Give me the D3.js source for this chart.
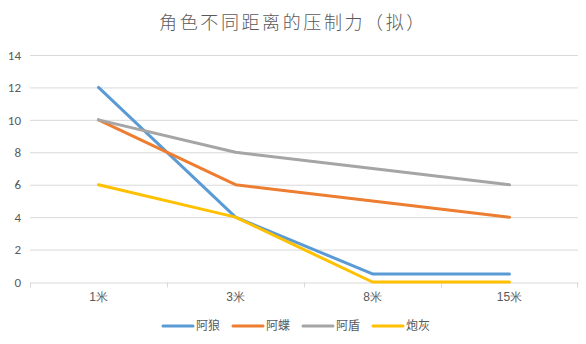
<!DOCTYPE html>
<html>
<head>
<meta charset="utf-8">
<script src="https://cdn.jsdelivr.net/npm/d3@7"></script>
<style>
  html, body { margin: 0; padding: 0; background: #fff; }
  svg { display: block; font-family: "Noto Sans CJK SC", "Noto Sans", sans-serif; }
</style>
</head>
<body>
<svg id="chart" width="586" height="344"></svg>
<script>
const categories = ["1米", "3米", "8米", "15米"];
const seriesNames = ["阿狼", "阿蝶", "阿盾", "炮灰"];
const wolf = [12, 4, 0.5, 0.5];
const butterfly = [10, 6, 5, 4];
const shield = [10, 8, 7, 6];
const fodder = [6, 4, 0, 0];
const yTicks = [0, 2, 4, 6, 8, 10, 12, 14];
const colors = ["#5B9BD5", "#ED7D31", "#A5A5A5", "#FFC000"];
const title = "角色不同距离的压制力（拟）";

const series = [wolf, butterfly, shield, fodder].map((values, i) => ({
  name: seriesNames[i], values, color: colors[i]
}));

const svg = d3.select("#chart");
const W = 586, H = 344;
const m = { left: 30, right: 8, top: 55, bottom: 62 };

const x = d3.scaleBand().domain(categories).range([m.left, W - m.right]);
const y = d3.scaleLinear().domain([0, 14]).range([H - m.bottom, m.top]);

// title
svg.append("text")
  .attr("x", 293).attr("y", 29)
  .attr("text-anchor", "middle")
  .attr("font-size", 18)
  .attr("font-weight", 300)
  .attr("letter-spacing", 2.6)
  .attr("fill", "#595959")
  .text(title);

// horizontal gridlines
svg.append("g").selectAll("line").data(yTicks.filter(d => d > 0)).join("line")
  .attr("x1", m.left).attr("x2", W - m.right)
  .attr("y1", d => y(d) + 0.5).attr("y2", d => y(d) + 0.5)
  .attr("stroke", "#D9D9D9").attr("stroke-width", 1);

// y axis labels
const yAxis = d3.axisLeft(y).tickValues(yTicks).tickSize(0).tickPadding(9);
const gy = svg.append("g").attr("transform", `translate(${m.left},0)`).call(yAxis);
gy.select(".domain").remove();
gy.selectAll("text").attr("font-size", 13).attr("fill", "#595959")
  .attr("font-family", "Carlito, Calibri, 'Liberation Sans', sans-serif");

// x axis
const xAxis = d3.axisBottom(x).tickSize(0).tickPadding(10);
const gx = svg.append("g").attr("transform", `translate(0,${y(0) + 0.5})`).call(xAxis);
gx.select(".domain").attr("stroke", "#D9D9D9");
gx.selectAll("text").attr("font-size", 12).attr("fill", "#595959");
// category boundary ticks
gx.append("g").selectAll("line").data(categories).join("line")
  .attr("x1", d => Math.round(x(d)) + 0.5).attr("x2", d => Math.round(x(d)) + 0.5)
  .attr("y1", 0).attr("y2", 5).attr("stroke", "#D9D9D9");
gx.append("line")
  .attr("x1", W - m.right - 0.5).attr("x2", W - m.right - 0.5)
  .attr("y1", 0).attr("y2", 5).attr("stroke", "#D9D9D9");

// lines
const line = d3.line()
  .x((d, i) => x(categories[i]) + x.bandwidth() / 2)
  .y(d => y(d));

svg.append("g").selectAll("path").data(series).join("path")
  .attr("d", d => line(d.values))
  .attr("fill", "none")
  .attr("stroke", d => d.color)
  .attr("stroke-width", 3)
  .attr("stroke-linecap", "round")
  .attr("stroke-linejoin", "round");

// legend
const legendX = [163, 233, 303, 373];
const lg = svg.append("g").selectAll("g").data(series).join("g")
  .attr("transform", (d, i) => `translate(${legendX[i]},326)`);
lg.append("line")
  .attr("x1", 0).attr("x2", 30).attr("y1", 0).attr("y2", 0)
  .attr("stroke", d => d.color).attr("stroke-width", 3)
  .attr("stroke-linecap", "round");
lg.append("text")
  .attr("x", 33).attr("y", 0).attr("dy", "0.35em")
  .attr("font-size", 12).attr("fill", "#595959")
  .text(d => d.name);
</script>
</body>
</html>
